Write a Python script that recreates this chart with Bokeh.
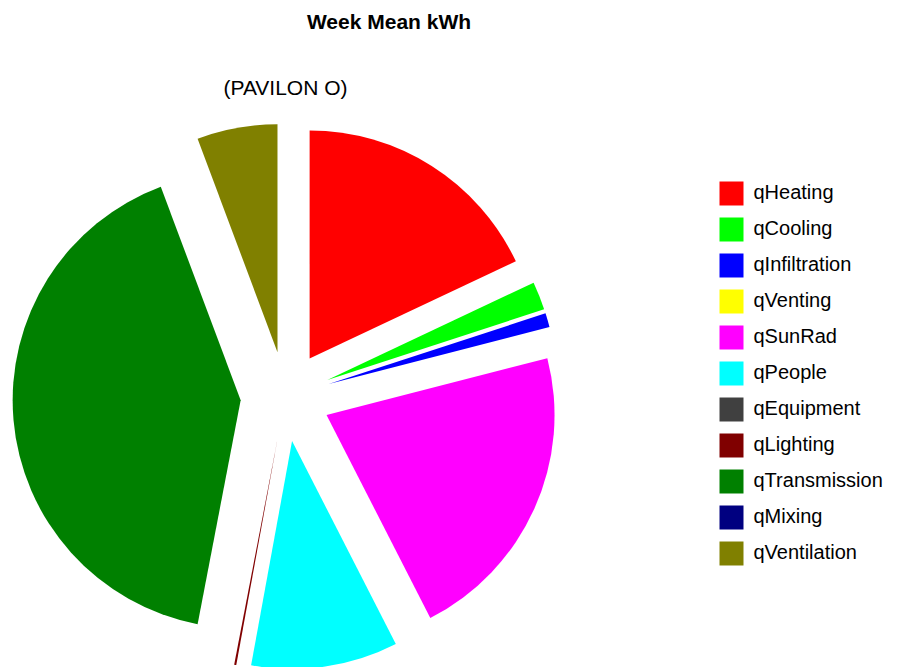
import numpy as np
from bokeh.plotting import figure
from bokeh.models import ColumnDataSource, Range1d, Legend, LegendItem
from bokeh.core.properties import value
from bokeh.embed import file_html
from bokeh.resources import INLINE

# ---- data ----
categories = ["qHeating", "qCooling", "qInfiltration", "qVenting", "qSunRad",
              "qPeople", "qEquipment", "qLighting", "qTransmission", "qMixing",
              "qVentilation"]
kwh = [18.0, 2.0, 1.0, 0.0, 21.5, 10.4, 0.0, 0.15, 41.3, 0.0, 5.7]
colors = ["#FF0000", "#00FF00", "#0000FF", "#FFFF00", "#FF00FF", "#00FFFF",
          "#404040", "#800000", "#008000", "#000080", "#808000"]
title_text = "Week Mean kWh"
subtitle_text = "(PAVILON O)"

# ---- geometry ----
W, H = 897, 667
cx, cy = 285.0, 271.0
R = 228
explode = 45.0

vals = np.array(kwh, dtype=float)
frac = vals / vals.sum()
cum_after = np.cumsum(frac)
cum_before = cum_after - frac
a_start = np.pi / 2 - cum_after * 2 * np.pi
a_end = np.pi / 2 - cum_before * 2 * np.pi
mid = (a_start + a_end) / 2
xs = cx + explode * np.cos(mid)
ys = cy + explode * np.sin(mid)
radii = np.where(vals > 0, R, 0)

src = ColumnDataSource(dict(x=xs, y=ys, start=a_start, end=a_end, r=radii,
                            color=colors, name=categories))

p = figure(width=W, height=H, output_backend="svg", toolbar_location=None,
           x_range=Range1d(0, W), y_range=Range1d(0, H),
           min_border=0, min_border_left=0, min_border_right=0,
           min_border_top=0, min_border_bottom=0)
p.axis.visible = False
p.grid.visible = False
p.outline_line_color = None
p.background_fill_color = "white"
p.border_fill_color = "white"

r = p.wedge(x="x", y="y", radius="r", radius_units="screen",
            start_angle="start", end_angle="end", direction="anticlock",
            fill_color="color", line_color=None, source=src)

p.text(x=[388.5], y=[646], text=[title_text], text_font=value("Liberation Sans"),
       text_font_size="21px", text_font_style="bold", text_align="center",
       text_baseline="middle", text_color="black")
p.text(x=[cx], y=[580.5], text=[subtitle_text], text_font=value("Liberation Sans"),
       text_font_size="21px", text_align="center", text_baseline="middle",
       text_color="black")

items = [LegendItem(label=categories[i], renderers=[r], index=i)
         for i in range(len(categories))]
legend = Legend(items=items, location=(715.5, 99.3), padding=0, margin=0,
                spacing=6, glyph_width=30, glyph_height=30, label_height=30,
                label_standoff=8, label_text_font="Liberation Sans",
                label_text_font_size="20px", label_text_color="black",
                border_line_color=None, background_fill_alpha=0)
p.add_layout(legend, "center")

open("out.html", "w").write(file_html(p, INLINE))
